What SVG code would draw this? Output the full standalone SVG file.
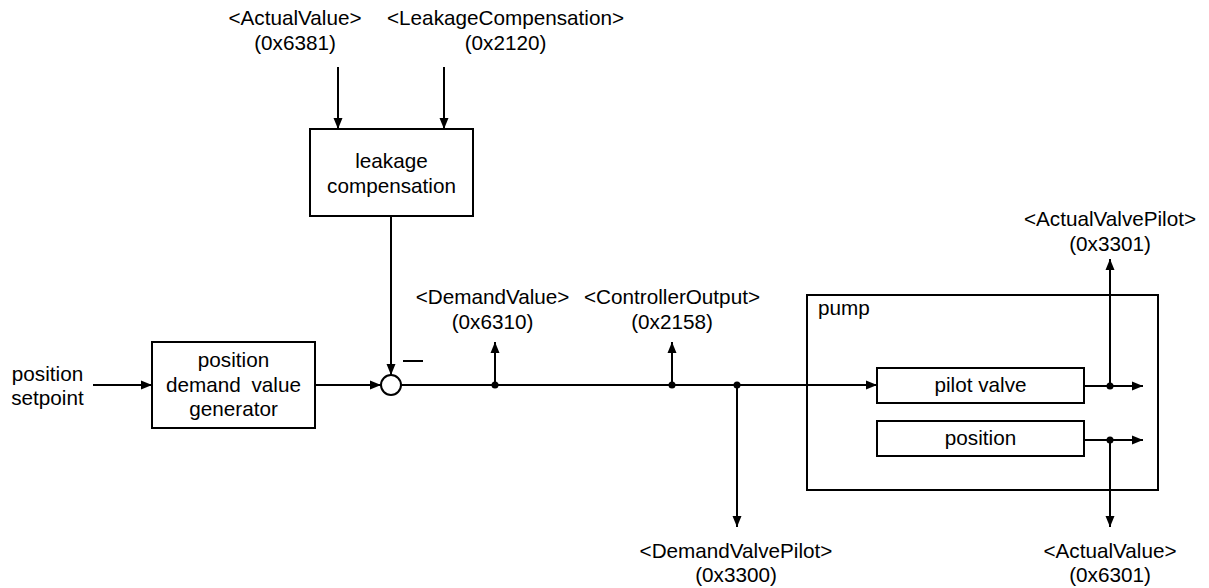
<svg xmlns="http://www.w3.org/2000/svg" width="1209" height="588" viewBox="0 0 1209 588">
<defs>
<style>
text{font-family:"Liberation Sans",Arial,sans-serif;font-size:20.7px;fill:#000;text-anchor:middle}
.box{fill:#fff;stroke:#000;stroke-width:2}
.ln{fill:none;stroke:#000;stroke-width:2}
.dot{fill:#000}
</style>
<marker id="ah" markerWidth="12" markerHeight="10" refX="11" refY="5" orient="auto" markerUnits="userSpaceOnUse">
<path d="M0,0.5 L11,5 L0,9.5 z" fill="#000"/>
</marker>
</defs>
<rect width="1209" height="588" fill="#fff"/>

<g id="pump">
<rect class="box" x="807" y="295" width="351" height="195"/>
<text x="818" y="315" style="text-anchor:start">pump</text>
</g>

<g id="connectors">
<line class="ln" x1="338" y1="67" x2="338" y2="129" marker-end="url(#ah)"/>
<line class="ln" x1="444" y1="67" x2="444" y2="129" marker-end="url(#ah)"/>
<line class="ln" x1="391" y1="216" x2="391" y2="375" marker-end="url(#ah)"/>
<line class="ln" x1="93" y1="385" x2="152" y2="385" marker-end="url(#ah)"/>
<line class="ln" x1="315" y1="385" x2="381" y2="385" marker-end="url(#ah)"/>
<line class="ln" x1="401" y1="385" x2="877" y2="385" marker-end="url(#ah)"/>
<line class="ln" x1="495" y1="385" x2="495" y2="342" marker-end="url(#ah)"/>
<line class="ln" x1="672" y1="385" x2="672" y2="342" marker-end="url(#ah)"/>
<line class="ln" x1="737" y1="385" x2="737" y2="527" marker-end="url(#ah)"/>
<line class="ln" x1="1084" y1="386" x2="1143" y2="386" marker-end="url(#ah)"/>
<line class="ln" x1="1110" y1="386" x2="1110" y2="259" marker-end="url(#ah)"/>
<line class="ln" x1="1084" y1="440" x2="1143" y2="440" marker-end="url(#ah)"/>
<line class="ln" x1="1110" y1="440" x2="1110" y2="527" marker-end="url(#ah)"/>
<circle class="dot" cx="495" cy="385" r="3.5"/>
<circle class="dot" cx="672" cy="385" r="3.5"/>
<circle class="dot" cx="737" cy="385" r="3.5"/>
<circle class="dot" cx="1110" cy="386" r="3.5"/>
<circle class="dot" cx="1110" cy="440" r="3.5"/>
</g>

<g id="leakage">
<rect class="box" x="310" y="129" width="163" height="87"/>
<text x="391.5" y="168">leakage</text>
<text x="391.5" y="193">compensation</text>
</g>

<g id="pdvg">
<rect class="box" x="152" y="342" width="163" height="86"/>
<text x="233.5" y="367">position</text>
<text x="233.5" y="392" word-spacing="5">demand value</text>
<text x="233.5" y="416">generator</text>
</g>

<g id="sum">
<circle cx="391" cy="385" r="10" fill="#fff" stroke="#000" stroke-width="2"/>
<line class="ln" x1="403" y1="361" x2="423" y2="361"/>
</g>

<g id="pilot">
<rect class="box" x="877" y="368" width="207" height="35"/>
<text x="980.5" y="392">pilot valve</text>
</g>

<g id="position">
<rect class="box" x="877" y="421" width="207" height="35"/>
<text x="980.5" y="445">position</text>
</g>

<g id="labels">
<text x="47.5" y="381">position</text>
<text x="47.5" y="405">setpoint</text>
<text x="295" y="25">&lt;ActualValue&gt;</text>
<text x="295" y="50">(0x6381)</text>
<text x="505.5" y="25">&lt;LeakageCompensation&gt;</text>
<text x="505.5" y="50">(0x2120)</text>
<text x="492.5" y="304">&lt;DemandValue&gt;</text>
<text x="492.5" y="329">(0x6310)</text>
<text x="672" y="304">&lt;ControllerOutput&gt;</text>
<text x="672" y="329">(0x2158)</text>
<text x="1110" y="226">&lt;ActualValvePilot&gt;</text>
<text x="1110" y="251">(0x3301)</text>
<text x="736" y="558">&lt;DemandValvePilot&gt;</text>
<text x="736" y="582">(0x3300)</text>
<text x="1110" y="558">&lt;ActualValue&gt;</text>
<text x="1110" y="582">(0x6301)</text>
</g>
</svg>
